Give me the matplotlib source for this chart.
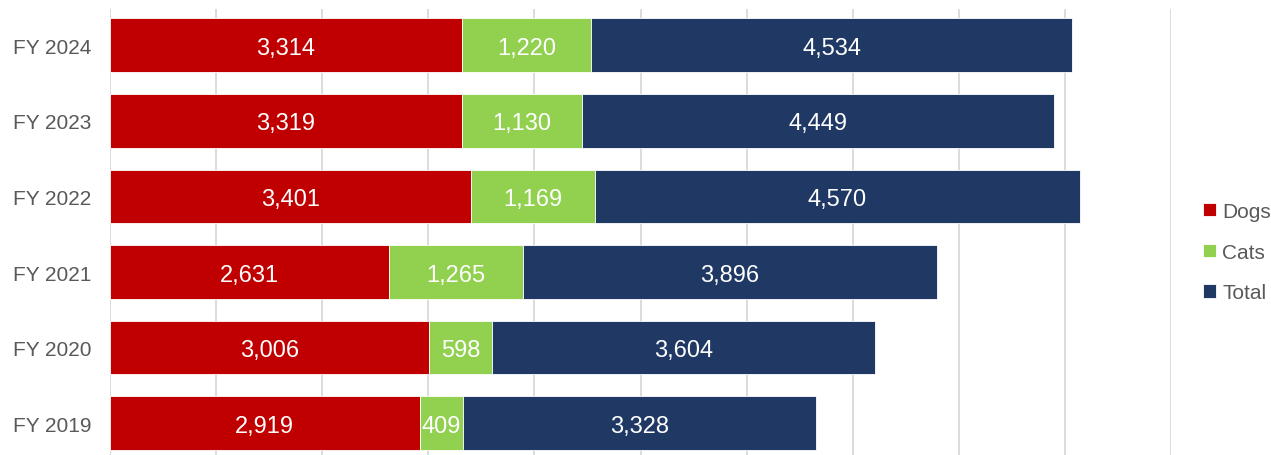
import numpy as np
import matplotlib.pyplot as plt

plt.rcParams['font.family'] = ['Liberation Sans', 'DejaVu Sans']

# data, bottom to top
years = ['FY 2019', 'FY 2020', 'FY 2021', 'FY 2022', 'FY 2023', 'FY 2024']
dogs = [2919, 3006, 2631, 3401, 3319, 3314]
cats = [409, 598, 1265, 1169, 1130, 1220]
total = [3328, 3604, 3896, 4570, 4449, 4534]

series = [('Dogs', dogs, '#C00000'),
          ('Cats', cats, '#92D050'),
          ('Total', total, '#203864')]

fig = plt.figure(figsize=(12.71, 4.56), dpi=100)
ax = fig.add_axes([110 / 1271, 0, (1171 - 110) / 1271, 446 / 456])

y = np.arange(len(years))
left = np.zeros(len(years))
for name, vals, col in series:
    vals = np.array(vals)
    bars = ax.barh(y, vals, left=left, height=0.71, color=col,
                   edgecolor='white', linewidth=0.6, label=name, zorder=3)
    for b, v in zip(bars, vals):
        ax.text(b.get_x() + b.get_width() / 2, b.get_y() + b.get_height() / 2,
                f'{v:,}', ha='center', va='center_baseline', color='white',
                fontsize=17, zorder=4)
    left += vals

ax.set_xlim(0, 10000)
ax.set_ylim(-0.42, 5.48)
ax.set_xticks(np.arange(0, 10001, 1000))
ax.set_xticklabels([])
ax.grid(axis='x', color='#D9D9D9', linewidth=1.3, zorder=0)
ax.set_yticks(y)
ax.set_yticklabels(years, fontsize=15, color='#595959')
ax.tick_params(length=0, pad=13.5)
for s in ax.spines.values():
    s.set_visible(False)

ax.legend(loc='center left', bbox_to_anchor=(1.0, 0.455), frameon=False,
          fontsize=15, labelcolor='#595959', handlelength=0.6,
          handleheight=0.6, handletextpad=0.3, labelspacing=1.05,
          borderaxespad=1.15)

fig.savefig('out.png', dpi=100)
